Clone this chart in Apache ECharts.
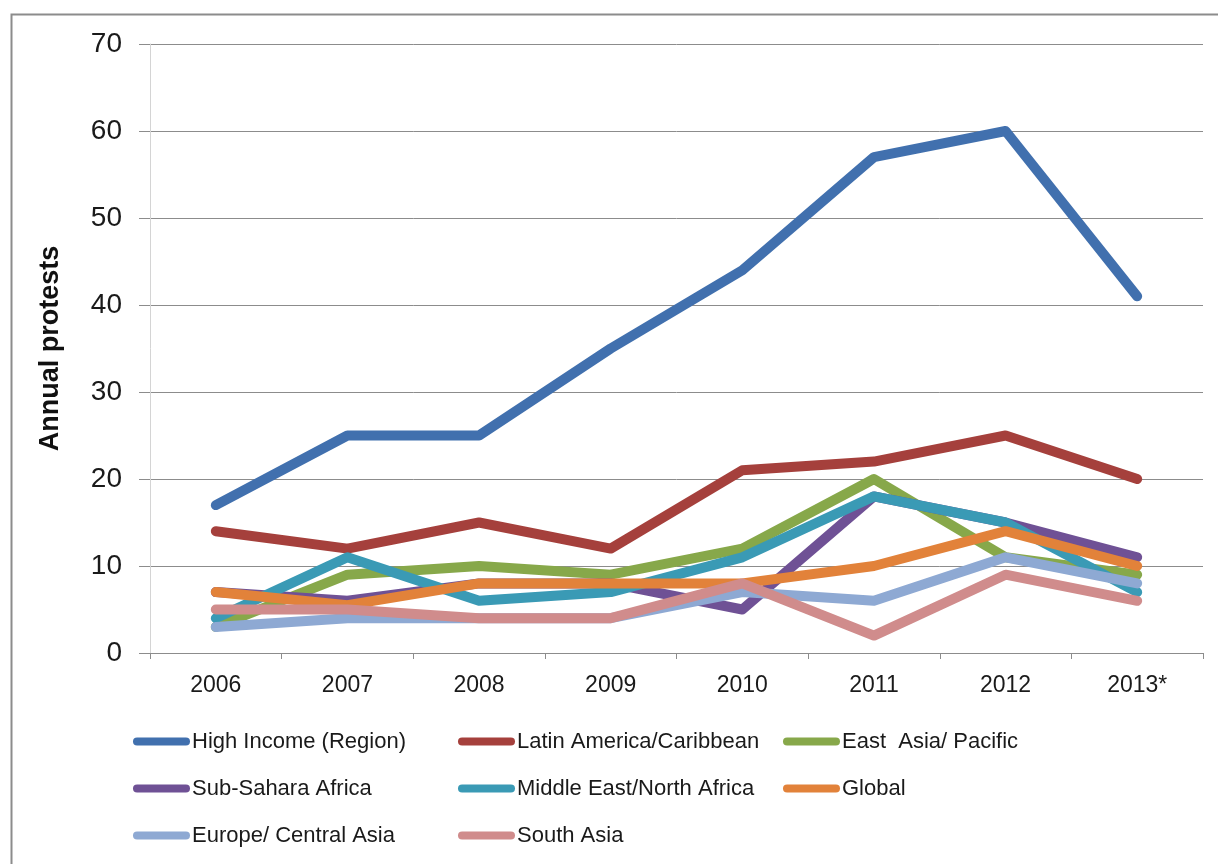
<!DOCTYPE html>
<html>
<head>
<meta charset="utf-8">
<script src="https://cdn.jsdelivr.net/npm/echarts@6/dist/echarts.min.js"></script>
<style>html,body{margin:0;padding:0;background:#fff;}#c{width:1218px;height:864px;}</style>
</head>
<body>
<div id="c"></div>
<script>
var categories = ['2006','2007','2008','2009','2010','2011','2012','2013*'];
var highIncome = [17,25,25,35,44,57,60,41];
var latinAmerica = [14,12,15,12,21,22,25,20];
var eastAsia = [3,9,10,9,12,20,11,9];
var subSahara = [7,6,8,8,5,18,15,11];
var mena = [4,11,6,7,11,18,15,7];
var globalVals = [7,5.5,8,8,8,10,14,10];
var europe = [3,4,4,4,7,6,11,8];
var southAsia = [5,5,4,4,8,2,9,6];
var yTicks = [0,10,20,30,40,50,60,70];

var names = ['High Income (Region)','Latin America/Caribbean','East  Asia/ Pacific','Sub-Sahara Africa','Middle East/North Africa','Global','Europe/ Central Asia','South Asia'];
var dataSets = [highIncome, latinAmerica, eastAsia, subSahara, mena, globalVals, europe, southAsia];
var colors = ['#4170AE','#A5403C','#87A84A','#6F5195','#3A9AB5','#E2823A','#8EA9D3','#D08C8C'];

var font = 'Liberation Sans';
var series = names.map(function(n,i){
  return {
    name: n, type: 'line', data: dataSets[i], symbol: 'none', smooth: false,
    lineStyle: {width: 10, color: colors[i], cap: 'round', join: 'round'},
    itemStyle: {color: colors[i]},
    emphasis: {disabled: true}
  };
});

var chart = echarts.init(document.getElementById('c'));
chart.setOption({
  animation: false,
  backgroundColor: '#ffffff',
  color: colors,
  graphic: [{
    type: 'rect', left: 9, top: 12, shape: {width: 1400, height: 1000},
    style: {fill: 'none', stroke: '#8c8c8c', lineWidth: 2}, z: -1
  }],
  grid: {left: 150, right: 15, top: 44, bottom: 211, containLabel: false},
  legend: {
    left: 133, top: 723, width: 1000, padding: 0,
    itemWidth: 57, itemHeight: 9, itemGap: 10,
    icon: 'path://M4,0 L52,0 A4,4 0 0 1 52,8 L4,8 A4,4 0 0 1 4,0 Z',
    textStyle: {fontFamily: font, fontSize: 22, color: '#1a1a1a', width: 256, lineHeight: 37, padding: [0,0,0,-3]},
    data: names
  },
  xAxis: {
    type: 'category', data: categories, boundaryGap: true,
    axisLine: {lineStyle: {color: '#8c8c8c', width: 1}},
    axisTick: {show: true, length: 6, lineStyle: {color: '#8c8c8c'}},
    axisLabel: {fontFamily: font, fontSize: 23, color: '#1a1a1a', margin: 21},
    splitLine: {show: false}
  },
  yAxis: {
    type: 'value', min: 0, max: 70, interval: 10,
    name: 'Annual protests', nameLocation: 'middle', nameGap: 86, nameRotate: 90,
    nameTextStyle: {fontFamily: font, fontSize: 27, fontWeight: 'bold', color: '#111'},
    axisLine: {show: true, lineStyle: {color: '#d4d4d4', width: 1}},
    axisTick: {show: true, length: 11, lineStyle: {color: '#8c8c8c'}},
    axisLabel: {fontFamily: font, fontSize: 28, color: '#1a1a1a', margin: 28,
      formatter: function(v){ return yTicks.indexOf(v) >= 0 ? String(v) : ''; }},
    splitLine: {show: true, lineStyle: {color: '#8c8c8c', width: 1}}
  },
  series: series
});
</script>
</body>
</html>
